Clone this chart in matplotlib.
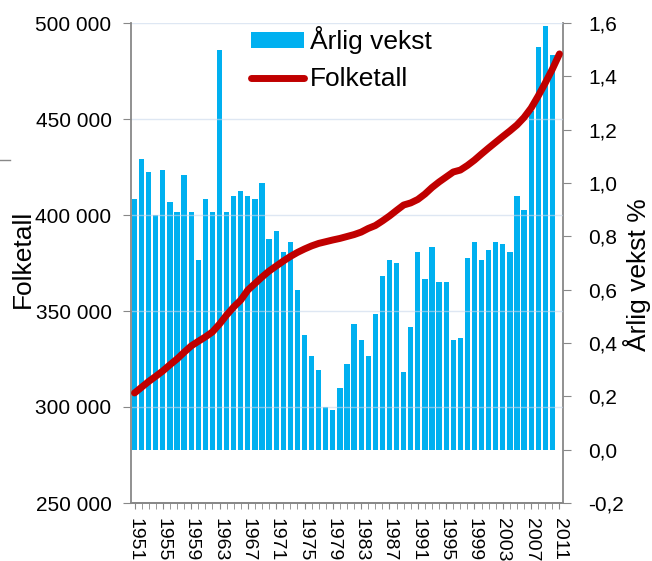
import matplotlib
matplotlib.use('Agg')
import matplotlib.pyplot as plt
from matplotlib.ticker import FuncFormatter, MultipleLocator
from matplotlib.lines import Line2D

plt.rcParams['font.family'] = ['Liberation Sans', 'DejaVu Sans']

# årlig vekst i prosent, 1951-2010
vekst_aar = list(range(1951, 2011))
vekst = [0.94, 1.09, 1.04, 0.88, 1.05, 0.93, 0.89, 1.03, 0.89, 0.71,
         0.94, 0.89, 1.50, 0.89, 0.95, 0.97, 0.95, 0.94, 1.00, 0.79,
         0.82, 0.74, 0.78, 0.60, 0.43, 0.35, 0.30, 0.16, 0.15, 0.23,
         0.32, 0.47, 0.41, 0.35, 0.51, 0.65, 0.71, 0.70, 0.29, 0.46,
         0.74, 0.64, 0.76, 0.63, 0.63, 0.41, 0.42, 0.72, 0.78, 0.71,
         0.75, 0.78, 0.77, 0.74, 0.95, 0.90, 1.27, 1.51, 1.59, 1.48]

# folketall, 1951-2011
folk_aar = list(range(1951, 2012))
folketall = [307300, 310300, 313300, 316000, 318800, 322000, 325000, 328500, 331800, 334200,
             336500, 339100, 343200, 347900, 352100, 355700, 360900, 364300, 367700, 370800,
             373400, 376000, 378400, 380500, 382300, 383900, 385200, 386100, 387000, 387800,
             388800, 389800, 391100, 393000, 394500, 396900, 399500, 402400, 405200, 406300,
             408100, 410900, 414300, 417200, 419800, 422400, 423400, 425800, 428600, 431800,
             434900, 437900, 440900, 443800, 446900, 450800, 455700, 462000, 468800, 476000,
             483900]

tick_aar = list(range(1951, 2012, 4))

fig = plt.figure(figsize=(6.52, 5.61), dpi=100)
ax = fig.add_axes([131/652, 1-503/561, 432/652, 480/561])
ax2 = ax.twinx()

# søyler på høyre akse
ax2.bar(vekst_aar, vekst, width=0.74, color='#00B0F0', label='Årlig vekst', zorder=2)
ax2.set_ylim(-0.2, 1.6)
ax2.yaxis.set_major_locator(MultipleLocator(0.2))
ax2.yaxis.set_major_formatter(FuncFormatter(lambda v, p: f"{v:.1f}".replace('.', ',')))

# linje på venstre akse, over søylene
ax.set_zorder(ax2.get_zorder() + 1)
ax.patch.set_visible(False)
ax.plot(folk_aar, folketall, color='#C00000', lw=5, solid_capstyle='round',
        label='Folketall', zorder=3)
ax.set_ylim(250000, 500000)
ax.yaxis.set_major_locator(MultipleLocator(50000))
ax.yaxis.set_major_formatter(FuncFormatter(lambda v, p: f"{int(v):,}".replace(',', ' ')))
ax.set_xlim(1950.5, 2011.5)
ax.set_xticks(tick_aar)
ax.set_xticks(folk_aar, minor=True)
ax.set_xticklabels([str(a) for a in tick_aar], rotation=270, fontsize=14)

# rutenett
for v in range(300000, 500001, 50000):
    ax.axhline(v, color='#c8d8ec', lw=1.0, alpha=0.6, zorder=1)

for a in (ax, ax2):
    for s in a.spines.values():
        s.set_color('#888888')
        s.set_linewidth(1.3)
    a.spines['top'].set_visible(False)
ax2.spines['left'].set_visible(False)
ax.spines['right'].set_visible(False)

ax.tick_params(axis='y', labelsize=15, length=6, color='#888888', pad=8)
ax2.tick_params(axis='y', labelsize=15, length=6, color='#888888', pad=12)
ax.tick_params(axis='x', which='both', length=4, color='#888888', pad=7)

fig.text(23/652, 1-259/561, 'Folketall', rotation=90, ha='center', va='center', fontsize=19)
fig.text(637/652, 1-275/561, 'Årlig vekst %', rotation=90, ha='center', va='center', fontsize=19)

# liten strek i venstre kant
fig.add_artist(Line2D([0, 10/652], [1-160/561, 1-160/561], color='#888888', lw=1))

h2, l2 = ax2.get_legend_handles_labels()
h1, l1 = ax.get_legend_handles_labels()
ax.legend(h2 + h1, l2 + l1, loc='upper left', bbox_to_anchor=(251/652, 1-26/561),
          bbox_transform=fig.transFigure, frameon=False, fontsize=19,
          handlelength=2.0, handleheight=0.55, handletextpad=0.25,
          labelspacing=0.5, borderpad=0, borderaxespad=0)

fig.savefig('out.png', dpi=100)
